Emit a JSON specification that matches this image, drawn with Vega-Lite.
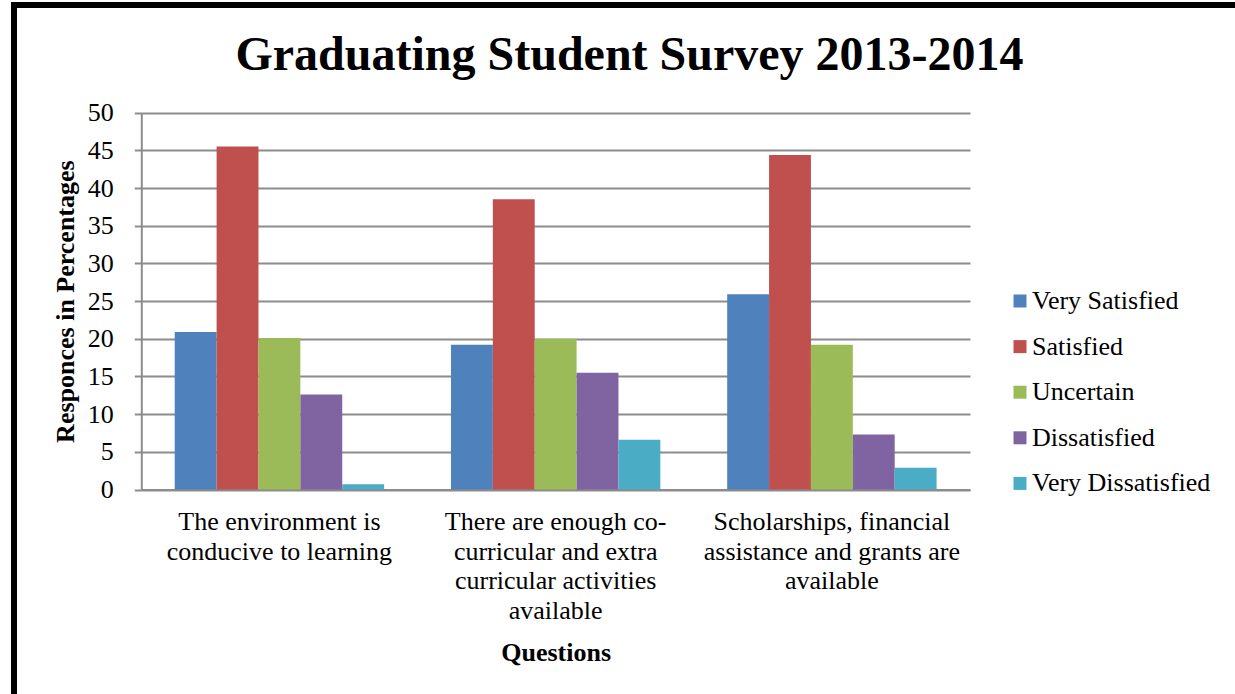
{
  "$schema": "https://vega.github.io/schema/vega-lite/v6.json",
  "width": 1233,
  "height": 701,
  "autosize": {"type": "none"},
  "padding": {"left": 14, "top": 5, "right": -12, "bottom": -12},
  "background": "white",
  "title": {
    "text": "Graduating Student Survey 2013-2014",
    "font": "Liberation Serif",
    "fontSize": 48,
    "fontWeight": "bold",
    "color": "black",
    "frame": "group",
    "anchor": "middle",
    "baseline": "alphabetic",
    "offset": -113,
    "dx": -1
  },
  "config": {
    "view": {"stroke": "black", "strokeWidth": 6, "fill": "white"},
    "font": "Liberation Serif"
  },
  "data": {
    "values": [
      {"question": "The environment is conducive to learning", "response": "Very Satisfied", "value": 20.9},
      {"question": "The environment is conducive to learning", "response": "Satisfied", "value": 45.5},
      {"question": "The environment is conducive to learning", "response": "Uncertain", "value": 20.1},
      {"question": "The environment is conducive to learning", "response": "Dissatisfied", "value": 12.6},
      {"question": "The environment is conducive to learning", "response": "Very Dissatisfied", "value": 0.7},
      {"question": "There are enough co-curricular and extra curricular activities available", "response": "Very Satisfied", "value": 19.2},
      {"question": "There are enough co-curricular and extra curricular activities available", "response": "Satisfied", "value": 38.5},
      {"question": "There are enough co-curricular and extra curricular activities available", "response": "Uncertain", "value": 20.0},
      {"question": "There are enough co-curricular and extra curricular activities available", "response": "Dissatisfied", "value": 15.5},
      {"question": "There are enough co-curricular and extra curricular activities available", "response": "Very Dissatisfied", "value": 6.6},
      {"question": "Scholarships, financial assistance and grants are available", "response": "Very Satisfied", "value": 25.9},
      {"question": "Scholarships, financial assistance and grants are available", "response": "Satisfied", "value": 44.4},
      {"question": "Scholarships, financial assistance and grants are available", "response": "Uncertain", "value": 19.2},
      {"question": "Scholarships, financial assistance and grants are available", "response": "Dissatisfied", "value": 7.3},
      {"question": "Scholarships, financial assistance and grants are available", "response": "Very Dissatisfied", "value": 2.9}
    ]
  },
  "mark": {"type": "bar"},
  "encoding": {
    "x": {
      "field": "question",
      "type": "nominal",
      "sort": [
        "The environment is conducive to learning",
        "There are enough co-curricular and extra curricular activities available",
        "Scholarships, financial assistance and grants are available"
      ],
      "scale": {"range": [127.3, 956], "paddingInner": 0.242, "paddingOuter": 0.121},
      "axis": {
        "title": "Questions",
        "offset": -216.5,
        "labelAngle": 0,
        "ticks": false,
        "grid": false,
        "domainColor": "#8c8c8c",
        "domainWidth": 2,
        "labelFont": "Liberation Serif",
        "labelFontSize": 26,
        "labelColor": "black",
        "labelPadding": 19,
        "labelBaseline": "top",
        "labelLineHeight": 29.7,
        "labelLimit": 0,
        "labelExpr": "datum.value == 'The environment is conducive to learning' ? ['The environment is', 'conducive to learning'] : datum.value == 'There are enough co-curricular and extra curricular activities available' ? ['There are enough co-', 'curricular and extra', 'curricular activities', 'available'] : ['Scholarships, financial', 'assistance and grants are', 'available']",
        "titleFont": "Liberation Serif",
        "titleFontSize": 26,
        "titleFontWeight": "bold",
        "titleColor": "black",
        "titlePadding": 16
      }
    },
    "xOffset": {
      "field": "response",
      "type": "nominal",
      "sort": ["Very Satisfied", "Satisfied", "Uncertain", "Dissatisfied", "Very Dissatisfied"],
      "scale": {"paddingInner": 0, "paddingOuter": 0}
    },
    "y": {
      "field": "value",
      "type": "quantitative",
      "scale": {"domain": [0, 50], "range": [484.5, 107.7], "nice": false, "zero": true},
      "axis": {
        "title": "Responces in Percentages",
        "offset": -127.3,
        "values": [0, 5, 10, 15, 20, 25, 30, 35, 40, 45, 50],
        "grid": true,
        "gridColor": "#8c8c8c",
        "gridWidth": 2,
        "domainColor": "#8c8c8c",
        "domainWidth": 2,
        "tickColor": "#8c8c8c",
        "tickWidth": 2,
        "tickSize": 7,
        "labelFont": "Liberation Serif",
        "labelFontSize": 26,
        "labelColor": "black",
        "labelPadding": 21,
        "titleFont": "Liberation Serif",
        "titleFontSize": 26,
        "titleFontWeight": "bold",
        "titleColor": "black",
        "titlePadding": 9
      }
    },
    "color": {
      "field": "response",
      "type": "nominal",
      "sort": ["Very Satisfied", "Satisfied", "Uncertain", "Dissatisfied", "Very Dissatisfied"],
      "scale": {
        "domain": ["Very Satisfied", "Satisfied", "Uncertain", "Dissatisfied", "Very Dissatisfied"],
        "range": ["#4F81BD", "#C0504D", "#9BBB59", "#8064A2", "#4BACC6"]
      },
      "legend": {
        "title": null,
        "orient": "none",
        "legendX": 993,
        "legendY": 283,
        "symbolType": "square",
        "symbolSize": 169,
        "symbolStrokeWidth": 0,
        "labelFont": "Liberation Serif",
        "labelFontSize": 26,
        "labelColor": "black",
        "labelOffset": -1,
        "rowPadding": 19.6,
        "labelLimit": 0
      }
    }
  }
}
